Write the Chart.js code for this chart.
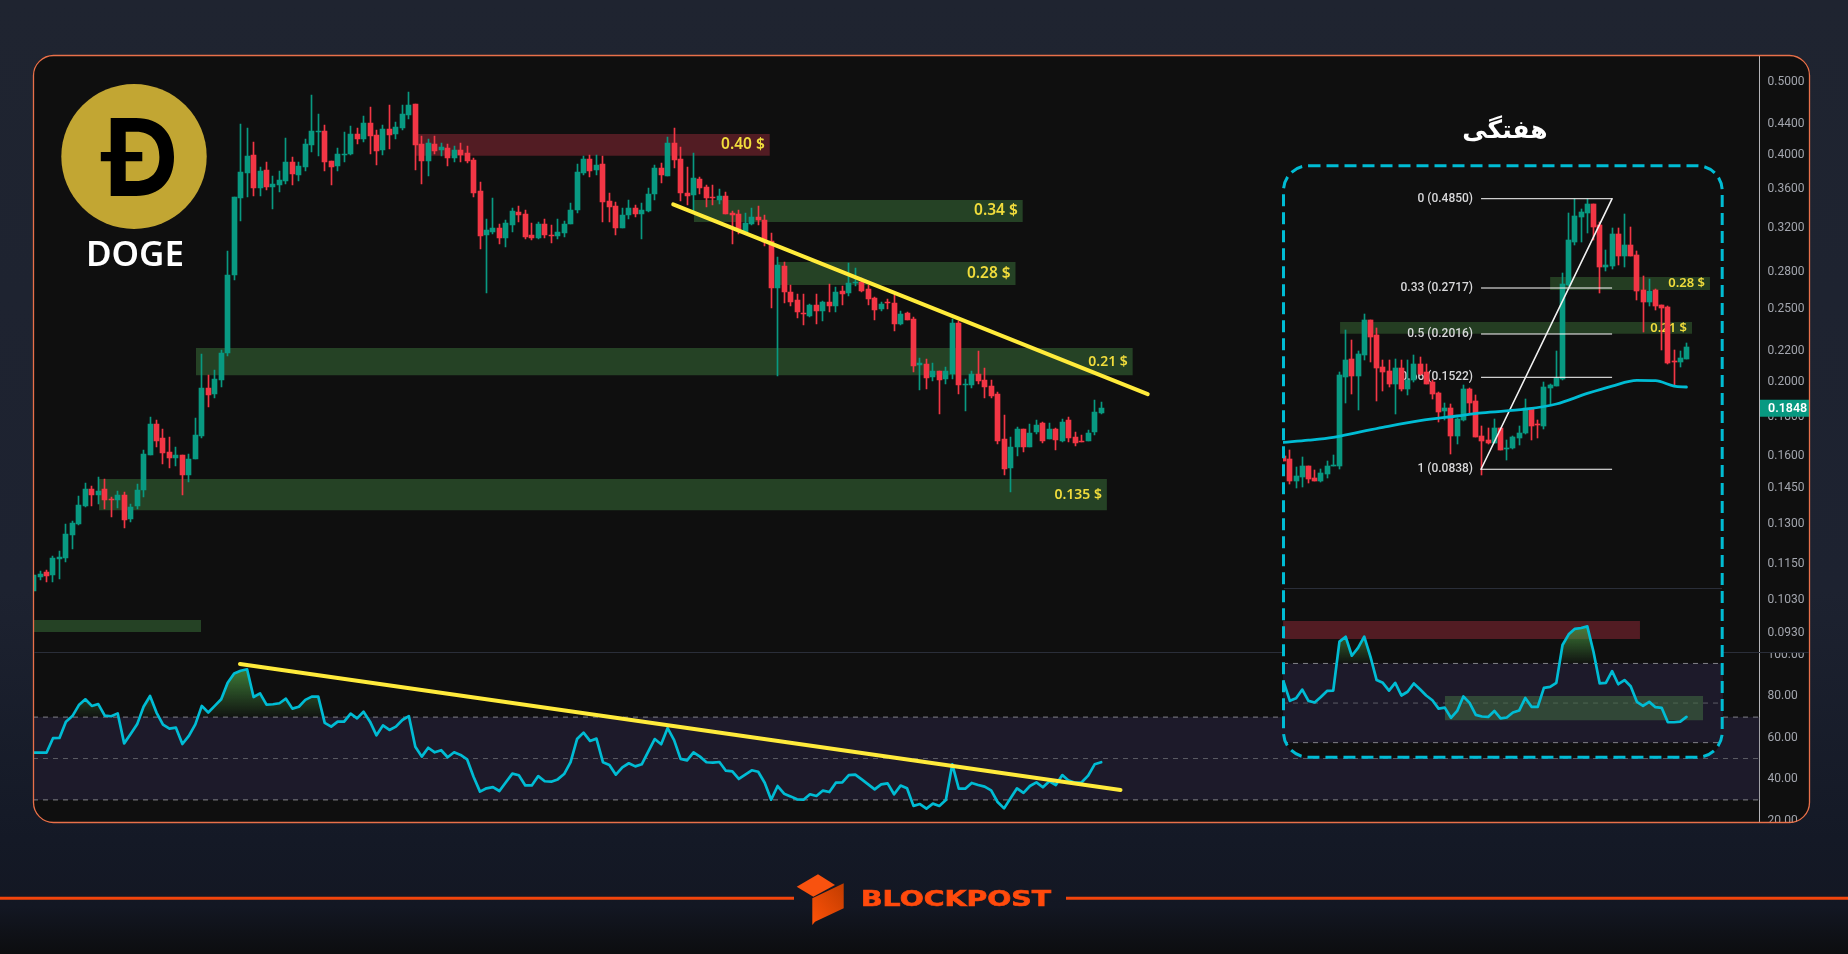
<!DOCTYPE html>
<html lang="fa">
<head>
    <meta charset="UTF-8">
    <title>DOGE</title>
    <script src="https://cdn.jsdelivr.net/npm/chart.js"></script>
    <style>
        html, body {
            margin: 0;
            padding: 0;
            width: 1848px;
            height: 954px;
            overflow: hidden;
            background: linear-gradient(180deg, #1f2430 0%, #1d2230 62%, #141926 88%, #131723 95%, #0c0d0f 100%);
        }
        canvas { position: absolute; left: 0; display: block; }
        #card {
            position: absolute;
            left: 33px;
            top: 55px;
            width: 1777px;
            height: 768px;
            background: #0f0f0f;
            border-radius: 20px;
            overflow: hidden;
        }
        #inset {
            position: absolute;
            left: 1283px;
            top: 166px;
            width: 440px;
            height: 592px;
            background: #0f0f0f;
            border-radius: 25px;
            overflow: hidden;
        }
        #overlay { position: absolute; left: 0; top: 0; pointer-events: none; }
    </style>
</head>
<body>
    <div id="card">
        <canvas id="price-chart" width="1777" height="597" style="top:0"></canvas>
        <canvas id="rsi-chart" width="1777" height="171" style="top:597px"></canvas>
    </div>
    <div id="inset">
        <canvas id="week-price-chart" width="440" height="422" style="top:0"></canvas>
        <canvas id="week-rsi-chart" width="440" height="170" style="top:422px"></canvas>
    </div>
    <svg id="overlay" width="1848" height="954">
        <defs>
            <linearGradient id="cube-side" x1="0" y1="1" x2="1" y2="0">
                <stop offset="0" stop-color="#ff5208"/>
                <stop offset="1" stop-color="#c03c00"/>
            </linearGradient>
        </defs>
        <!-- card outline and pane separators -->
        <rect x="33.5" y="55.5" width="1776" height="767" rx="20" fill="none" stroke="#e8704a" stroke-width="1.3"/>
        <line x1="34" y1="652.5" x2="1283" y2="652.5" stroke="#2a2e39"/>
        <line x1="1723" y1="652.5" x2="1809" y2="652.5" stroke="#2a2e39"/>
        <line x1="1284" y1="588.5" x2="1722" y2="588.5" stroke="#2a2e39"/>
        <rect x="1283.5" y="165.7" width="438.7" height="591.5" rx="25" fill="none" stroke="#00bcd4" stroke-width="3" stroke-dasharray="12 6"/>

        <!-- coin badge -->
        <ellipse cx="134" cy="156.5" rx="72.7" ry="72.5" fill="#c2a633"/>
        <path fill="#000" fill-rule="evenodd" d="M110.7 118 H136 C160 118 174 133 174 157 C174 181 160 196 136 196 H110.7 V161.3 H100.8 V152 H110.7 Z M125.7 131.7 V152 H142.3 V161.3 H125.7 V181 H136 C151 181 159.4 172 159.4 157 C159.4 141 151 131.7 136 131.7 Z"/>
        <text x="135" y="266" text-anchor="middle" font-family="Noto Sans" font-weight="600" font-size="35" fill="#fff">DOGE</text>
        <text x="1505" y="138" text-anchor="middle" font-family="DejaVu Sans" font-weight="700" font-size="25" fill="#fff">هفتگی</text>

        <!-- footer brand -->
        <line x1="0" y1="898.3" x2="794" y2="898.3" stroke="#f2450c" stroke-width="3"/>
        <line x1="1066" y1="898.3" x2="1848" y2="898.3" stroke="#f2450c" stroke-width="3"/>
        <path fill="#f8520f" d="M796.7 886.7 L818 874.3 L835 885 L813.3 896.7 Z"/>
        <path fill="url(#cube-side)" d="M812.3 898.3 L843.7 883.3 V908.3 L815 921.7 L812.3 925 Z"/>
        <text x="861" y="906" font-family="DejaVu Sans" font-weight="700" font-size="20.5" textLength="190" lengthAdjust="spacingAndGlyphs" fill="#ff4a0c" stroke="#ff4a0c" stroke-width="0.6">BLOCKPOST</text>
    </svg>

    <script>
        // daily candles
        const openPrices = [
            .1059,.1104,.1121,.1111,.1167,.1170,.1255,.1298,.1371,.1444,
            .1418,.1444,.1400,.1396,.1418,.1318,.1371,.1439,.1602,.1761,
            .1687,.1617,.1588,.1602,.1507,.1583,.1698,.1965,.1929,.2013,
            .2186,.2773,.3507,.3785,.3998,.3616,.3819,.3627,.3649,.3693,
            .3913,.3762,.3855,.4122,.4289,.4301,.3925,.3867,.3998,.4010,
            .4263,.4199,.4409,.4250,.4060,.4327,.4263,.4340,.4516,.4671,
            .4135,.3925,.4135,.4060,.4085,.3962,.4060,.4022,.3937,.3582,
            .3133,.3162,.3198,.3105,.3232,.3361,.3340,.3133,.3105,.3241,
            .3133,.3125,.3152,.3241,.3381,.3785,.3950,.3819,.3892,.3475,
            .3423,.3198,.3330,.3402,.3340,.3371,.3551,.3843,.3750,.4147,
            .3950,.3562,.3541,.3716,.3627,.3518,.3485,.3527,.3350,.3340,
            .3162,.3241,.3311,.3280,.3076,.2664,.2850,.2632,.2569,.2470,
            .2446,.2530,.2485,.2553,.2523,.2640,.2624,.2706,.2714,.2657,
            .2585,.2500,.2553,.2546,.2388,.2470,.2425,.2107,.2114,.2031,
            .2069,.2019,.2050,.2395,.1983,.1983,.2050,.2013,.1977,.1929,
            .1682,.1540,.1641,.1734,.1641,.1718,.1766,.1682,.1734,.1671,
            .1782,.1692,.1671,.1671,.1718,.1821
        ];
        const highPrices = [
            .1111,.1124,.1128,.1177,.1195,.1298,.1310,.1413,.1471,.1457,
            .1498,.1489,.1409,.1435,.1431,.1379,.1467,.1626,.1799,.1782,
            .1734,.1692,.1641,.1602,.1607,.1793,.2180,.2044,.2076,.2206,
            .2983,.3518,.4394,.4340,.4160,.3855,.3913,.3750,.3808,.4211,
            .3975,.3913,.4199,.4801,.4530,.4381,.3925,.4085,.4289,.4368,
            .4340,.4503,.4628,.4314,.4381,.4656,.4421,.4656,.4845,.4671,
            .4237,.4199,.4237,.4147,.4135,.4110,.4147,.4110,.3962,.3682,
            .3290,.3507,.3241,.3280,.3402,.3423,.3381,.3250,.3260,.3290,
            .3232,.3290,.3270,.3454,.3892,.3982,.3998,.3998,.3986,.3562,
            .3465,.3405,.3485,.3433,.3454,.3616,.3879,.3900,.4224,.4340,
            .4097,.3855,.4022,.3739,.3649,.3649,.3605,.3572,.3371,.3381,
            .3350,.3402,.3423,.3330,.3152,.2930,.2885,.2690,.2616,.2616,
            .2538,.2616,.2561,.2698,.2673,.2681,.2876,.2832,.2747,.2690,
            .2593,.2553,.2577,.2608,.2485,.2477,.2438,.2153,.2146,.2120,
            .2069,.2095,.2425,.2410,.2019,.2069,.2199,.2088,.2013,.1941,
            .1810,.1692,.1745,.1734,.1761,.1782,.1771,.1766,.1739,.1787,
            .1799,.1718,.1703,.1729,.1895,.1884
        ];
        const lowPrices = [
            .1059,.1094,.1088,.1088,.1097,.1156,.1203,.1294,.1367,.1371,
            .1379,.1359,.1326,.1363,.1282,.1306,.1359,.1409,.1602,.1641,
            .1559,.1540,.1549,.1418,.1476,.1583,.1687,.1855,.1905,.1971,
            .2166,.2731,.3270,.3518,.3527,.3527,.3594,.3391,.3572,.3660,
            .3649,.3693,.3808,.4035,.3986,.3808,.3649,.3808,.3913,.3998,
            .4135,.4160,.4010,.3879,.3998,.4072,.4199,.4314,.4461,.3819,
            .3660,.3750,.4010,.3986,.3867,.3913,.3913,.3900,.3518,.3002,
            .2625,.3143,.3048,.3020,.3162,.3260,.3095,.3085,.3095,.3105,
            .3057,.3095,.3115,.3241,.3350,.3762,.3739,.3762,.3260,.3260,
            .3133,.3198,.3286,.3310,.3095,.3361,.3485,.3672,.3750,.3843,
            .3475,.3433,.3350,.3551,.3413,.3433,.3444,.3340,.3048,.3143,
            .3162,.3232,.3232,.3029,.2508,.2037,.2546,.2523,.2433,.2381,
            .2438,.2388,.2410,.2477,.2477,.2530,.2600,.2681,.2632,.2530,
            .2418,.2485,.2500,.2338,.2381,.2418,.2063,.1953,.1959,.2007,
            .1815,.1989,.2019,.1929,.1832,.1965,.1989,.1905,.1905,.1656,
            .1507,.1431,.1597,.1617,.1641,.1708,.1661,.1682,.1626,.1666,
            .1666,.1646,.1666,.1671,.1703,.1815
        ];
        const closePrices = [
            .1111,.1114,.1108,.1170,.1174,.1259,.1302,.1375,.1444,.1418,
            .1435,.1396,.1396,.1418,.1314,.1367,.1439,.1607,.1761,.1671,
            .1612,.1588,.1602,.1507,.1583,.1703,.1965,.1923,.2019,.2186,
            .2773,.3518,.3796,.3986,.3616,.3808,.3627,.3660,.3705,.3913,
            .3773,.3867,.4135,.4301,.4301,.3913,.3855,.4010,.4010,.4263,
            .4199,.4409,.4237,.4047,.4327,.4250,.4354,.4530,.4656,.4122,
            .3925,.4147,.4047,.4097,.3962,.4060,.3998,.3925,.3562,.3125,
            .3181,.3198,.3105,.3250,.3371,.3330,.3115,.3105,.3241,.3133,
            .3125,.3162,.3241,.3381,.3796,.3950,.3808,.3879,.3465,.3413,
            .3198,.3330,.3402,.3340,.3381,.3551,.3843,.3762,.4147,.3937,
            .3562,.3527,.3727,.3616,.3507,.3507,.3527,.3340,.3330,.3181,
            .3250,.3311,.3280,.3067,.2664,.2859,.2632,.2553,.2477,.2462,
            .2530,.2485,.2553,.2523,.2632,.2616,.2706,.2714,.2640,.2577,
            .2493,.2538,.2546,.2388,.2462,.2418,.2101,.2120,.2025,.2069,
            .2013,.2069,.2395,.1983,.1989,.2050,.2007,.1971,.1918,.1671,
            .1535,.1641,.1734,.1641,.1713,.1755,.1671,.1734,.1677,.1771,
            .1687,.1661,.1666,.1713,.1826,.1848
        ];
        const rsiValues = [
            52.8,52.8,52.8,59.8,59.9,67.8,70.5,75.8,78.6,75.4,76.3,70.7,70.4,71.8,57.3,61.8,66.5,75.0,80.2,72.2,
            66.4,64.4,64.9,57.0,60.9,66.5,75.4,72.2,75.4,78.6,86.6,91.1,92.4,93.1,79.7,81.5,76.0,76.2,76.7,78.9,
            74.1,75.0,78.3,79.9,79.9,67.2,65.4,67.8,67.8,71.7,69.4,72.6,67.8,61.2,66.0,63.8,65.4,68.6,70.5,55.7,
            50.9,55.2,53.0,54.0,50.6,53.0,51.7,49.6,41.2,34.0,35.6,36.2,34.3,38.5,42.7,41.9,37.0,37.0,41.5,39.0,
            38.8,39.9,42.5,48.2,59.4,62.5,58.5,59.6,48.2,46.9,42.2,45.7,47.7,46.2,47.2,53.3,59.4,56.9,64.7,58.9,
            49.8,49.1,53.0,50.9,48.2,48.0,48.3,44.1,43.8,40.1,42.2,44.3,43.6,38.3,30.1,36.7,33.0,31.7,30.3,30.1,
            32.7,31.9,34.5,33.8,38.3,38.5,42.0,42.2,39.9,37.5,35.1,37.5,38.0,32.7,36.9,35.6,27.1,28.0,25.8,28.2,
            27.1,29.9,47.2,35.4,35.4,38.2,37.2,36.4,34.6,29.0,25.9,30.8,35.6,33.4,36.7,38.5,36.1,39.0,37.2,42.0,
            39.3,38.3,38.5,41.7,47.2,48.2
        ];

        // weekly candles
        const weekOpen = [
            .0915,.0896,.0776,.0796,.0856,.0791,.0776,.0812,.0856,.0856,
            .1525,.1714,.1534,.1759,.2207,.2003,.1628,.1585,.1457,.1617,
            .1410,.1495,.1659,.1575,.1476,.1374,.1223,.1246,.1040,.1153,
            .1410,.1305,.1040,.1012,.0993,.1095,.0955,.0962,.1026,.1060,
            .1246,.1124,.1110,.1420,.1438,.1505,.2770,.3662,.4306,.4421,
            .4690,.4088,.3113,.3134,.3857,.3343,.3591,.3365,.2681,.2480,
            .2681,.2432,.2401,.1692,.1681,.1714
        ];
        const weekHigh = [
            .0917,.0949,.0852,.0907,.0856,.0832,.0839,.0884,.0919,.1575,
            .2068,.1939,.1805,.2295,.2207,.2096,.1703,.1703,.1714,.1703,
            .1703,.1759,.1736,.1659,.1495,.1383,.1288,.1280,.1169,.1447,
            .1420,.1356,.1110,.1095,.1161,.1095,.1012,.1040,.1110,.1322,
            .1246,.1153,.1476,.1457,.1805,.2993,.4421,.4840,.4536,.4850,
            .4690,.4170,.3476,.4011,.4011,.4382,.4035,.3454,.2937,.2880,
            .2699,.2432,.2417,.1817,.1805,.1901
        ];
        const weekLow = [
            .0882,.0762,.0744,.0749,.0765,.0776,.0771,.0791,.0856,.0839,
            .1288,.1366,.1231,.1703,.1681,.1305,.1392,.1429,.1200,.1392,
            .1356,.1476,.1544,.1457,.1321,.1141,.1153,.0925,.0987,.1146,
            .1200,.1033,.0807,.0987,.0991,.0949,.0890,.0955,.0980,.1053,
            .1012,.1026,.1088,.1280,.1438,.1495,.2752,.3591,.3670,.3890,
            .3709,.2630,.3033,.3073,.3154,.3113,.3343,.2513,.2040,.2417,
            .2355,.1817,.1659,.1438,.1628,.1714
        ];
        const weekClose = [
            .0884,.0776,.0802,.0856,.0786,.0776,.0818,.0856,.0861,.1544,
            .1703,.1534,.1771,.2207,.1977,.1617,.1575,.1457,.1617,.1410,
            .1495,.1659,.1554,.1457,.1366,.1215,.1246,.1040,.1161,.1410,
            .1288,.1033,.1006,.0993,.1095,.0949,.0962,.1033,.1060,.1246,
            .1110,.1117,.1429,.1447,.1515,.2788,.3709,.4334,.4444,.4690,
            .4029,.3113,.3154,.3857,.3343,.3591,.3343,.2664,.2480,.2664,
            .2417,.2386,.1670,.1681,.1725,.1848
        ];
        const weekRsi = [
            60.7,51.1,52.4,56.8,51.1,50.3,53.1,56.1,56.3,81.0,83.5,73.9,77.9,83.5,73.4,61.6,60.2,56.3,60.2,53.8,
            55.7,59.9,57.0,53.8,51.4,47.2,47.7,42.5,46.0,53.3,50.1,44.0,43.2,43.0,46.0,42.3,42.7,45.2,46.2,52.6,
            48.1,48.1,57.7,58.2,60.2,79.3,84.7,87.5,87.9,88.7,75.9,59.9,60.2,66.1,59.5,61.6,58.5,50.6,48.6,50.6,
            47.9,47.6,40.3,40.3,40.6,43.0
        ];
        const weekMaIndex = [0,4,8,12,16,22,28,32,39,44,49,53,57,60,63,65];
        const weekMaValues = [.0998,.1012,.1031,.1065,.1100,.1149,.1184,.1208,.1238,.1280,.1371,.1438,.1492,.1489,.1438,.1429];

        // price levels on the daily chart
        const zoneText = ['0.40 $','0.34 $','0.28 $','0.21 $','0.135 $',''];
        const zoneStart = [58.95,102.05,115,25.1,10.1,-0.1];
        const zoneEnd = [113.8,152.9,151.8,169.9,165.9,25.9];
        const zoneHigh = [.4263,.3485,.2885,.2220,.1489,.0969];
        const zoneLow = [.3990,.3260,.2690,.2044,.1354,.0934];

        // price levels on the weekly chart
        const weekZoneText = ['0.28 $','0.21 $'];
        const weekZoneStart = [43,9.1];
        const weekZoneEnd = [68.8,65.9];
        const weekZoneHigh = [.2918,.2179];
        const weekZoneLow = [.2681,.2020];

        // weekly rsi boxes
        const weekRsiBoxStart = [-0.1,26];
        const weekRsiBoxEnd = [57.5,67.7];
        const weekRsiBoxHigh = [91.4,53.5];
        const weekRsiBoxLow = [82.3,41.3];

        // trend lines
        const trendIndex = [98.86,172.2];
        const trendPrice = [.3440,.1929];
        const rsiTrendIndex = [31.9,168];
        const rsiTrendValue = [95.65,34.8];

        // fibonacci retracement
        const fibRatio = ['0','0.33','0.5','0.66','1'];
        const fibPrice = [.4850,.2717,.2016,.1522,.0838];
        const fibIndex = [31.85,53];

        const priceTicks = [.5,.44,.40,.36,.32,.28,.25,.22,.20,.18,.16,.145,.13,.115,.103,.093];
        const rsiTicks = [100,80,60,40,20];
        const rsiLevels = [70,50,30];

        const GREEN = '#089981';
        const RED = '#f23645';
        const CYAN = '#00bcd4';
        const YELLOW = '#ffeb3b';
        const ZONE_GREEN = '#254225';
        const ZONE_RED = '#521c23';
        const LABEL_YELLOW = '#f0dc3c';
        const BAND = '#1d1a2a';

        function candleDatasets(opens, highs, lows, closes) {
            const colors = opens.map((o, i) => closes[i] >= o ? GREEN : RED);
            return [
                {
                    label: 'wicks',
                    data: opens.map((o, i) => ({ x: i, y: [lows[i], highs[i]] })),
                    backgroundColor: colors,
                    barThickness: 1,
                    order: 20
                },
                {
                    label: 'bodies',
                    data: opens.map((o, i) => ({ x: i, y: [o, closes[i]] })),
                    backgroundColor: colors,
                    barThickness: 5,
                    minBarLength: 1,
                    order: 10
                }
            ];
        }

        function boxDataset(start, end, high, low, color, order) {
            return {
                type: 'line',
                data: [{ x: start, y: high }, { x: end, y: high }],
                borderWidth: 0,
                pointRadius: 0,
                backgroundColor: color,
                fill: { target: { value: low } },
                order: order
            };
        }

        function lineDataset(xs, ys, color, width, order, extra) {
            return Object.assign({
                type: 'line',
                data: xs.map((x, i) => ({ x: x, y: ys[i] })),
                borderColor: color,
                borderWidth: width,
                pointRadius: 0,
                fill: false,
                borderCapStyle: 'round',
                borderJoinStyle: 'round',
                order: order
            }, extra || {});
        }

        // the 50 level is dimmer than 70 and 30
        function levelDatasets(xMin, xMax, order) {
            const sets = rsiLevels.map(v => lineDataset([xMin, xMax], [v, v], v === 50 ? '#5c5c64' : '#828288', 1, order, { borderDash: [5, 5], borderCapStyle: 'butt' }));
            sets.push(boxDataset(xMin, xMax, rsiLevels[0], rsiLevels[2], BAND, order + 10));
            return sets;
        }

        // candles get whole-pixel edges so bodies and wicks stay sharp
        const snapBars = {
            id: 'snapBars',
            afterDatasetsUpdate(chart) {
                chart.getSortedVisibleDatasetMetas().forEach(meta => {
                    if (meta.type !== 'bar') return;
                    meta.data.forEach(bar => {
                        bar.x = Math.floor(bar.x) + 0.5;
                        bar.y = Math.round(bar.y);
                        bar.base = Math.round(bar.base);
                        if (bar.y === bar.base) bar.base = bar.y + 1;
                    });
                });
            }
        };

        // runs just before the wicks so labels sit over the boxes and under the candles
        function labelPlugin(draw) {
            return {
                id: 'labels',
                beforeDatasetDraw(chart, args) {
                    if (chart.data.datasets[args.index].label === 'wicks') draw(chart);
                }
            };
        }

        const lastPriceTag = {
            id: 'lastPriceTag',
            afterDraw(chart) {
                const ctx = chart.ctx;
                const y = chart.scales.y.getPixelForValue(closePrices[closePrices.length - 1]);
                const left = chart.chartArea.right + 0.5;
                ctx.save();
                ctx.fillStyle = GREEN;
                ctx.fillRect(left, y - 8.5, 50, 17);
                ctx.fillStyle = '#fff';
                ctx.font = '600 12.5px Roboto';
                ctx.textBaseline = 'middle';
                ctx.fillText(closePrices[closePrices.length - 1].toFixed(4), left + 8, y + 0.5);
                ctx.restore();
            }
        };

        function commonOptions(xMin, xMax, yOptions) {
            return {
                responsive: false,
                animation: false,
                events: [],
                layout: { padding: 0, autoPadding: false },
                datasets: { bar: { grouped: false } },
                plugins: { legend: { display: false }, tooltip: { enabled: false } },
                scales: {
                    x: { type: 'linear', min: xMin, max: xMax, offset: false, display: false },
                    y: yOptions
                }
            };
        }

        function axisOptions(type, min, max, ticks, digits) {
            return {
                type: type,
                position: 'right',
                min: min,
                max: max,
                grid: { display: false, drawTicks: false },
                border: { color: '#b4b4b8', width: 1 },
                afterBuildTicks(scale) { scale.ticks = ticks.map(v => ({ value: v })); },
                afterFit(scale) {
                    scale.width = 50.5;
                    scale.paddingTop = 0;
                    scale.paddingBottom = 0;
                },
                ticks: {
                    autoSkip: false,
                    padding: 8,
                    color: '#a3a6ae',
                    font: { family: 'Roboto', size: 12 },
                    callback: v => Number(v).toFixed(digits)
                }
            };
        }

        function hiddenAxis(type, min, max) {
            return { type: type, min: min, max: max, display: false };
        }

        // green shade between the rsi line and the 70 level
        function shadeRsi(chart, dataset, peak) {
            const y = chart.scales.y;
            const grad = chart.ctx.createLinearGradient(0, y.getPixelForValue(peak), 0, y.getPixelForValue(70));
            grad.addColorStop(0, 'rgba(66,135,60,0.9)');
            grad.addColorStop(1, 'rgba(66,135,60,0.04)');
            dataset.fill.above = grad;
            chart.update('none');
        }

        function drawBoxLabel(chart, text, end, high, low, font) {
            const ctx = chart.ctx;
            const y = (chart.scales.y.getPixelForValue(high) + chart.scales.y.getPixelForValue(low)) / 2;
            ctx.save();
            ctx.fillStyle = LABEL_YELLOW;
            ctx.font = font;
            ctx.textAlign = 'right';
            ctx.textBaseline = 'middle';
            ctx.fillText(text, chart.scales.x.getPixelForValue(end) - 5, y);
            ctx.restore();
        }

        // daily price pane
        const priceDatasets = candleDatasets(openPrices, highPrices, lowPrices, closePrices);
        zoneText.forEach((t, i) => {
            priceDatasets.push(boxDataset(zoneStart[i], zoneEnd[i], zoneHigh[i], zoneLow[i], i === 0 ? ZONE_RED : ZONE_GREEN, 30));
        });
        priceDatasets.push(lineDataset(trendIndex, trendPrice, YELLOW, 4, 1));

        new Chart(document.getElementById('price-chart'), {
            type: 'bar',
            data: { datasets: priceDatasets },
            options: commonOptions(-0.09, 266.76, axisOptions('logarithmic', 0.0879, 0.5424, priceTicks, 4)),
            plugins: [snapBars, lastPriceTag, labelPlugin(chart => {
                zoneText.forEach((t, i) => {
                    if (!t) return;
                    const size = i < 3 ? 15.5 : 14;
                    drawBoxLabel(chart, t, zoneEnd[i], zoneHigh[i], zoneLow[i], `600 ${size}px "Noto Sans"`);
                });
            })]
        });

        // daily rsi pane
        const rsiLine = lineDataset(rsiValues.map((v, i) => i), rsiValues, CYAN, 2.7, 1, {
            fill: { target: { value: 70 }, below: 'rgba(0,0,0,0)' }
        });
        const rsiChart = new Chart(document.getElementById('rsi-chart'), {
            type: 'line',
            data: {
                datasets: [
                    rsiLine,
                    lineDataset(rsiTrendIndex, rsiTrendValue, YELLOW, 4, 0),
                    ...levelDatasets(-0.09, 266.76, 30)
                ]
            },
            options: commonOptions(-0.09, 266.76, axisOptions('linear', 18.84, 101.45, rsiTicks, 2))
        });
        shadeRsi(rsiChart, rsiLine, 93.1);

        // weekly price pane
        const weekDatasets = candleDatasets(weekOpen, weekHigh, weekLow, weekClose);
        weekZoneText.forEach((t, i) => {
            weekDatasets.push(boxDataset(weekZoneStart[i], weekZoneEnd[i], weekZoneHigh[i], weekZoneLow[i], '#243d22', 30));
        });
        fibPrice.forEach(p => weekDatasets.push(lineDataset(fibIndex, [p, p], '#ffffff', 1, 3, { borderCapStyle: 'butt' })));
        weekDatasets.push(lineDataset(fibIndex, [fibPrice[4], fibPrice[0]], '#f2f2f2', 1.6, 2));
        weekDatasets.push(lineDataset(weekMaIndex, weekMaValues, CYAN, 2.8, 1, { cubicInterpolationMode: 'monotone' }));

        new Chart(document.getElementById('week-price-chart'), {
            type: 'bar',
            data: { datasets: weekDatasets },
            options: commonOptions(-0.11, 70.9, hiddenAxis('logarithmic', 0.03878, 0.5997)),
            plugins: [snapBars, labelPlugin(chart => {
                weekZoneText.forEach((t, i) => {
                    drawBoxLabel(chart, t, weekZoneEnd[i], weekZoneHigh[i], weekZoneLow[i], '600 13px "Noto Sans"');
                });
                const ctx = chart.ctx;
                ctx.save();
                ctx.fillStyle = '#d8d8da';
                ctx.font = '500 12px Roboto';
                ctx.textAlign = 'right';
                ctx.textBaseline = 'middle';
                fibRatio.forEach((r, i) => {
                    ctx.fillText(`${r} (${fibPrice[i].toFixed(4)})`, chart.scales.x.getPixelForValue(fibIndex[0]) - 8, chart.scales.y.getPixelForValue(fibPrice[i]));
                });
                ctx.restore();
            })]
        });

        // weekly rsi pane
        const weekRsiLine = lineDataset(weekRsi.map((v, i) => i), weekRsi, CYAN, 2.7, 1, {
            fill: { target: { value: 70 }, below: 'rgba(0,0,0,0)' }
        });
        const weekRsiChart = new Chart(document.getElementById('week-rsi-chart'), {
            type: 'line',
            data: {
                datasets: [
                    weekRsiLine,
                    boxDataset(weekRsiBoxStart[0], weekRsiBoxEnd[0], weekRsiBoxHigh[0], weekRsiBoxLow[0], ZONE_RED, 20),
                    boxDataset(weekRsiBoxStart[1], weekRsiBoxEnd[1], weekRsiBoxHigh[1], weekRsiBoxLow[1], 'rgba(66,110,66,0.55)', 20),
                    ...levelDatasets(-0.11, 70.9, 30)
                ]
            },
            options: commonOptions(-0.11, 70.9, hiddenAxis('linear', 22.25, 108.1))
        });
        shadeRsi(weekRsiChart, weekRsiLine, 88.7);
    </script>
</body>
</html>
